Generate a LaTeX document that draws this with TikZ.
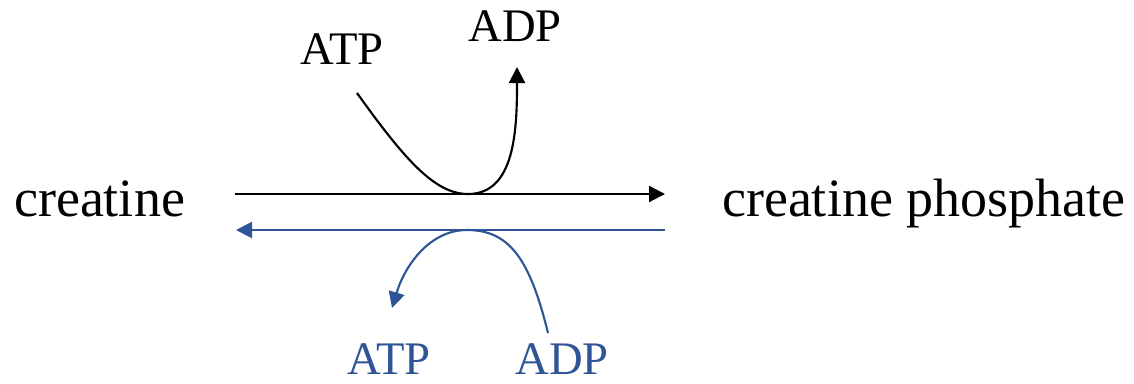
\documentclass[tikz,border=0pt]{standalone}
\usepackage{fontspec}
\setmainfont{Liberation Serif}
\usepackage{xcolor}
\usetikzlibrary{arrows.meta}

\definecolor{revblue}{RGB}{47,85,151}

\tikzset{
  big/.style={inner sep=0pt,font=\fontsize{40.5}{44}\selectfont},
  small/.style={inner sep=0pt,font=\fontsize{35}{38}\selectfont},
  tip/.style={-{Triangle[length=12pt,width=12pt]}},
}

\begin{document}
\begin{tikzpicture}[x=0.75pt,y=-0.75pt,line width=1.6pt]
\useasboundingbox (0,0) rectangle (1134,383);

% Substrates
\node[big,anchor=base west] (creat) at (13,216) {creatine};
\node[big,anchor=base west] (phos) at (721,216) {creatine phosphate};

% Forward arrow
\coordinate (fwdA) at (235,194);
\coordinate (fwdB) at (665,194);
\draw[tip] (fwdA) -- (fwdB);

% Reverse arrow
\coordinate (revA) at (665,230);
\coordinate (revB) at (236,230);
\draw[tip,revblue] (revA) -- (revB);

% Cofactors, forward
\node[small,anchor=base] (atpIn) at (342,64) {ATP};
\node[small,anchor=base] (adpOut) at (515,41) {ADP};
\coordinate (fwdIn) at (357,93);
\coordinate (fwdLow) at (468,194);
\coordinate (fwdOut) at (517,67);
\draw[tip] (fwdIn) .. controls (405,160) and (435,194) .. (fwdLow)
  .. controls (515,194) and (517,130) .. (fwdOut);

% Cofactors, reverse
\node[small,anchor=base,text=revblue] (atpOut) at (389,374) {ATP};
\node[small,anchor=base,text=revblue] (adpIn) at (562,374) {ADP};
\coordinate (revIn) at (548,333);
\coordinate (revTop) at (467,230);
\coordinate (revOut) at (392,308);
\draw[tip,revblue] (revIn) .. controls (530,260) and (510,230) .. (revTop)
  .. controls (430,230) and (405,265) .. (revOut);

\end{tikzpicture}
\end{document}
